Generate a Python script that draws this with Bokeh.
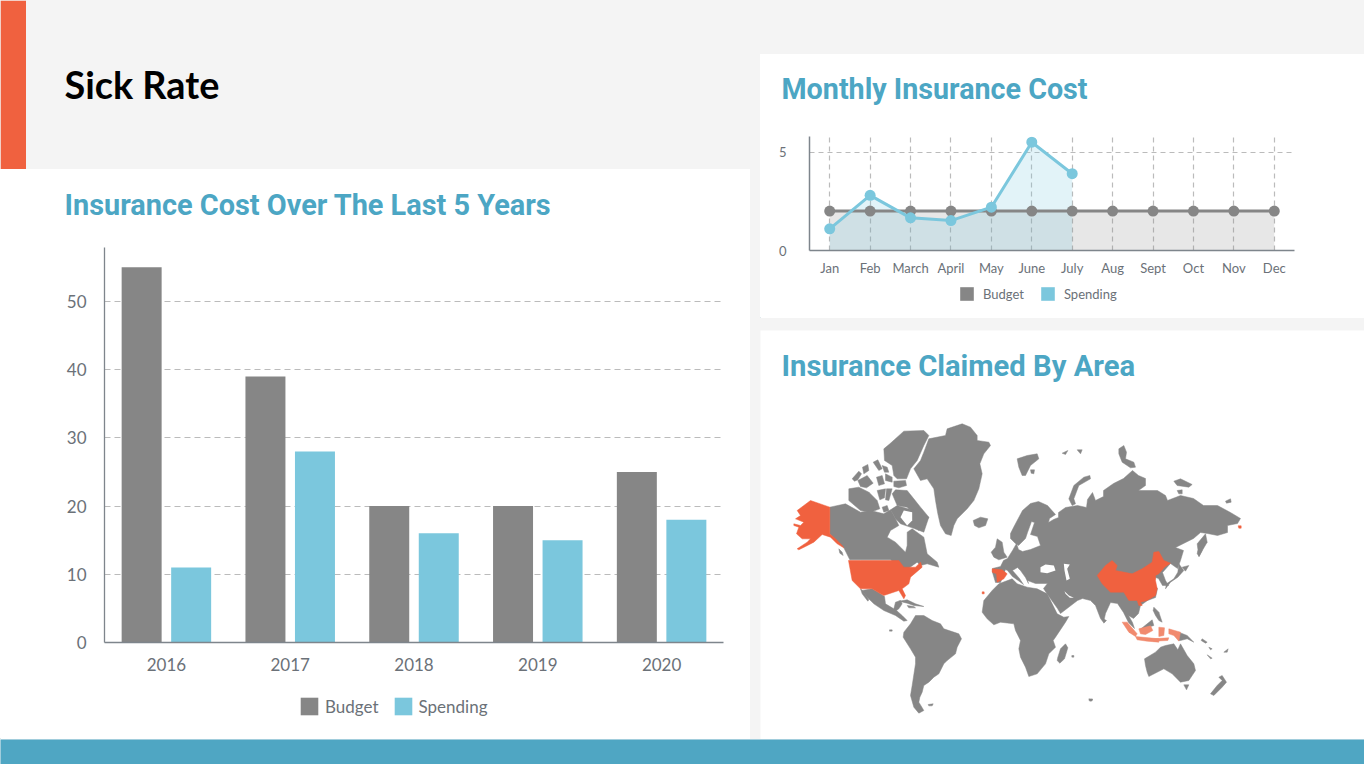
from bokeh.embed import file_html
from bokeh.resources import INLINE
from bokeh.plotting import figure
from bokeh.layouts import column, row
from bokeh.models import (BoxAnnotation, FactorRange, FixedTicker, Label, Legend, LegendItem,
                          Range1d, ColumnDataSource)
from bokeh.transform import dodge

# ---------------- data ----------------
YEARS = ["2016", "2017", "2018", "2019", "2020"]
YEAR_BUDGET = [55, 39, 20, 20, 25]
YEAR_SPENDING = [11, 28, 16, 15, 18]

MONTHS = ["Jan", "Feb", "March", "April", "May", "June", "July", "Aug", "Sept", "Oct", "Nov", "Dec"]
MONTH_BUDGET = [2, 2, 2, 2, 2, 2, 2, 2, 2, 2, 2, 2]
MONTH_SPENDING = [1.1, 2.8, 1.66, 1.52, 2.2, 5.5, 3.9]

# Map outlines: (origin of the reading, flat x,y list in 1/3 units)
NA = (780, 410)
EU = (1010, 410)
SA = (860, 560)
AS = (1090, 550)

GRAY_SHAPES = [
    # Greenland, Arctic Canada, Canada
    (NA, [445,85,495,75,500,55,545,40,570,50,590,75,590,90,625,95,630,105,610,130,598,160,605,190,595,235,580,270,560,295,530,325,520,345,512,375,495,370,480,345,472,310,465,270,460,235,440,205,420,210,400,175,420,150,430,125]),
    (NA, [328,100,370,62,430,60,445,75,430,105,410,150,390,175,378,205,350,205,340,195,335,165,312,150,310,115]),
    (NA, [215,205,235,182,243,190,232,208,222,212]),
    (NA, [246,170,262,162,265,180,250,190]),
    (NA, [278,155,292,148,305,175,295,180]),
    (NA, [305,165,320,170,325,185,312,185]),
    (NA, [232,210,260,195,278,218,258,232,240,228]),
    (NA, [288,200,305,195,312,220,295,225]),
    (NA, [315,190,335,200,335,215,315,210]),
    (NA, [340,212,375,210,378,225,355,232,340,228]),
    (NA, [205,235,235,230,265,245,290,270,298,295,270,305,240,300,205,270]),
    (NA, [290,240,315,235,312,262,298,268]),
    (NA, [318,235,335,235,325,270,315,268]),
    (NA, [335,250,345,238,380,240,400,265,420,290,445,320,430,345,415,360,395,340,400,310,380,290,350,285]),
    (NA, [305,290,320,285,325,300,310,305]),
    (NA, [578,330,600,320,622,325,615,345,595,352,582,345]),
    (NA, [148,290,195,280,240,305,270,300,310,310,330,298,345,325,355,345,330,360,320,380,345,395,375,425,380,405,380,365,395,355,430,380,440,430,470,455,475,470,440,460,420,465,410,455,375,480,360,470,330,448,208,448,190,412,148,370]),
    (NA, [330,298,350,285,400,300,445,320,430,365,395,352,360,340,345,325]),
    (NA, [175,415,185,425,188,435,178,428]),
    # UK and Ireland
    (NA, [632,425,645,410,650,385,665,395,670,425,680,440,655,448,640,440]),
    # Mexico, Baja, Caribbean, Pacific islands
    (SA, [5,90,35,85,60,100,72,108,75,130,100,145,105,125,120,120,125,130,115,145,108,150,125,165,140,180,130,182,105,165,70,150,40,130,20,110]),
    (SA, [0,85,8,92,25,118,22,122,5,100]),
    (SA, [115,122,140,118,165,130,190,138,160,135,140,128]),
    (SA, [140,135,160,138,165,142,145,142]),
    (SA, [87,208,95,208,95,212,87,212]),
    # South America, Falklands
    (SA, [130,215,150,190,165,165,190,165,215,180,240,190,250,205,295,220,303,235,290,260,285,280,260,300,250,310,235,340,220,350,205,365,190,375,185,395,178,410,175,425,190,450,175,458,160,440,150,405,155,375,165,310,165,290,150,265,128,230]),
    (SA, [203,432,218,430,215,436,205,436]),
    # Africa, Madagascar, small islands
    (SA, [365,155,370,120,395,90,415,70,455,55,470,70,500,80,530,85,560,100,590,160,610,170,625,168,615,185,585,230,578,240,585,260,565,280,555,310,530,340,505,348,495,320,480,290,475,265,480,240,465,210,460,190,420,185,400,193,380,175]),
    (SA, [592,290,600,265,615,250,622,262,612,295,598,308,590,300]),
    (SA, [634,285,640,285,640,290,634,290]),
    (SA, [685,415,696,416,692,422,686,421]),
    # Eurasian Arctic
    (EU, [20,145,50,135,80,130,85,145,60,165,45,195,35,195,25,170]),
    (EU, [60,178,72,178,70,190,62,188]),
    (EU, [155,128,172,120,165,132]),
    (EU, [200,118,215,118,210,130]),
    (EU, [175,265,190,225,220,200,238,195,240,205,205,225,190,265,195,280,185,285]),
    (EU, [325,115,340,105,348,125,345,145,370,155,375,170,360,172,335,155,325,130]),
    (EU, [490,212,510,205,545,222,535,230,500,225]),
    (EU, [500,240,515,238,515,250,505,250]),
    (EU, [645,272,660,265,662,275,648,278]),
    (EU, [560,400,585,370,590,395,565,438]),
    # Far East, South East Asia, Oceania
    (AS, [322,0,335,0,326,18,320,10]),
    (AS, [265,40,280,60,262,80,240,95,225,115,228,100,250,85,262,65]),
    (AS, [275,50,295,45,285,62]),
    (AS, [190,170,205,185,215,215,205,210,195,195,188,180]),
    (AS, [38,205,48,210,40,218]),
    (AS, [150,236,170,220,185,208,190,225,180,228]),
    (AS, [265,245,290,255,310,275,290,265,270,270,265,270]),
    (AS, [335,265,350,275,345,278,332,270]),
    (AS, [355,290,365,295,360,298]),
    (AS, [350,313,365,323,360,325]),
    (AS, [400,305,413,295,410,305]),
    (AS, [162,325,195,305,210,290,225,285,250,280,262,298,270,280,290,315,310,340,315,360,295,390,270,395,245,370,220,355,175,378,170,365,165,345]),
    (AS, [280,403,295,403,288,418]),
    (AS, [385,380,395,375,408,395,395,410,370,435,360,430,380,405,395,390]),
    (AS, [0,446,6,446,5,451,0,451]),
]

EURASIA_X = [992,992,1000,1003,1007,1012,1016,1018,1022,1030,1040,1037,1030,1034,1031,1027,1025,1018,1015,1010,1010,1013,1022,1030,1038,1047,1055,1049,1048,1053,1058,1058,1065,1077,1086,1087,1092,1095,1103,1103,1113,1123,1132,1138,1145,1145,1138,1157,1165,1167,1180,1193,1203,1217,1230,1240,1237,1227,1227,1217,1207,1200,1193,1175,1183,1180,1177,1170,1162,1165,1168,1162,1158,1155,1153,1157,1155,1147,1140,1138,1133,1128,1132,1134,1128,1123,1117,1110,1105,1103,1100,1095,1090,1082,1077,1060,1057,1047,1043,1047,1035,1027,1028,1025,1020,1017,1012,1019,1023,1019,1012,1007,1005,1000,995]
EURASIA_Y = [572,568,566,560,558,550,543,549,551,549,545,536,534,522,521,532,538,545,543,538,533,527,510,503,501,505,514,518,522,519,517,512,507,505,507,499,492,500,496,490,483,478,470,475,478,485,490,490,495,500,495,498,505,505,512,518,523,525,532,535,533,532,538,547,550,560,568,563,572,580,585,585,578,577,583,588,597,600,605,613,618,615,622,628,622,612,603,602,613,622,618,605,600,598,600,613,608,594,588,583,583,580,583,577,570,567,570,578,584,581,576,570,569,582,582]

WHITE_SHAPES = [
    (SA, [540,20,555,12,580,15,585,30,560,38,540,35]),       # Black Sea
    (SA, [610,10,628,12,620,25,628,55,618,60,612,30]),       # Caspian
    (SA, [612,92,625,105,640,112,628,112,615,100]),          # Persian Gulf
    (NA, [370,300,395,305,395,330,380,345,360,320]),         # Foxe Basin
]

RED_SHAPES = [
    (NA, [50,300,90,270,148,290,148,370,165,385,185,405,190,412,170,400,150,380,125,372,100,395,75,408,55,418,50,415,80,395,90,385,65,385,48,370,55,350,40,345,40,340,60,345,70,335,45,325,60,315]),
    (SA, [0,0,115,0,130,20,165,20,180,5,185,20,150,50,145,70,125,85,135,105,130,115,115,90,70,105,60,100,35,85,0,85,-25,60,-36,0]),
    (SA, [395,25,425,28,440,40,430,55,410,65,408,40,395,35]),
    (SA, [365,94,371,94,371,100,365,100]),
    (EU, [683,346,692,346,692,353,685,353]),
    (AS, [20,75,45,45,65,30,80,45,75,60,125,70,155,55,185,35,190,5,205,3,220,30,240,38,222,50,205,70,195,75,195,90,200,115,195,135,170,150,150,155,155,165,145,165,140,150,115,150,100,125,60,125,35,100]),
]

LIGHT_RED_SHAPES = [
    (AS, [95,215,110,215,140,250,135,258,115,245]),
    (AS, [135,258,175,262,205,265,205,275,170,272,140,268]),
    (AS, [145,235,180,226,187,240,165,252,150,250]),
    (AS, [205,230,222,232,220,255,205,258]),
    (AS, [235,235,270,245,265,272,250,255,235,250]),
    (AS, [180,265,235,262,232,270,190,272]),
]

# ---------------- styles ----------------
GRAY = "#868686"
BLUE = "#7BC7DD"
ORANGE = "#F0613F"
LIGHT_ORANGE = "#F18A6E"
TEAL = "#4FA6C3"
TITLE = "#4CA6C4"
BG = "#F4F4F4"
TXT = "#6B7178"
AXIS = "#7E858C"
GRID = "#BBBBBB"
HEAD_FONT = "Roboto"


def shape_lists(shapes):
    xs, ys = [], []
    for (ox, oy), flat in shapes:
        xs.append([ox + v / 3 for v in flat[0::2]])
        ys.append([oy + v / 3 for v in flat[1::2]])
    return xs, ys


def strip(width, height, fill="white"):
    fig = figure(width=width, height=height, x_range=(0, width), y_range=(0, height), output_backend="svg",
                 toolbar_location=None, tools="", x_axis_location=None, y_axis_location=None, frame_align=False,
                 background_fill_color=fill, border_fill_color=fill, min_border=0, min_border_left=0,
                 min_border_right=0, min_border_top=0, min_border_bottom=0)
    fig.outline_line_color = None
    fig.grid.visible = False
    return fig


def heading(fig, text, x, y, size="29px", font=HEAD_FONT, color=TITLE):
    fig.add_layout(Label(x=x, y=y, x_units="screen", y_units="screen", text=text,
                         text_font=font, text_font_style="bold", text_font_size=size,
                         text_color=color, text_baseline="middle", text_align="left"))


def legend_strip(width, height, x, y, size, glyph, standoff, spacing):
    fig = strip(width, height)
    # keys only: the bars lie outside the strip's range, the legend draws their colour
    k1 = fig.vbar(x=[-50], top=[1], width=1, fill_color=GRAY, line_color=None)
    k2 = fig.vbar(x=[-50], top=[1], width=1, fill_color=BLUE, line_color=None)
    fig.add_layout(Legend(items=[LegendItem(label="Budget", renderers=[k1]),
                                 LegendItem(label="Spending", renderers=[k2])],
                          location=(x, y), orientation="horizontal", margin=0, padding=0,
                          border_line_color=None, background_fill_alpha=0, glyph_width=glyph,
                          glyph_height=glyph, label_standoff=standoff, spacing=spacing,
                          label_text_font="Lato", label_text_font_size=size, label_text_color=TXT,
                          label_height=glyph), "center")
    return fig


# ---------------- header ----------------
head = strip(750, 169, BG)
head.add_layout(BoxAnnotation(left=0, right=25.5, fill_color=ORANGE, fill_alpha=1, line_color=None))
heading(head, "Sick Rate", 64, 85, size="37.8px", font="Lato", color="#000000")

# ---------------- bars ----------------
bars_title = strip(750, 78)
heading(bars_title, "Insurance Cost Over The Last 5 Years", 64, 43, size="28.9px")

bars = figure(width=750, height=438, x_range=FactorRange(factors=YEARS, range_padding=0),
              y_range=Range1d(0, 57.9), output_backend="svg", toolbar_location=None, tools="", frame_align=False,
              border_fill_color="white", background_fill_color="white")
bars.outline_line_color = None
bars.min_border_left, bars.min_border_right, bars.min_border_top, bars.min_border_bottom = 104, 27, 0, 43
src = ColumnDataSource(dict(year=YEARS, budget=YEAR_BUDGET, spending=YEAR_SPENDING))
bars.vbar(x=dodge("year", -0.2, range=bars.x_range), top="budget", width=0.323, source=src,
          fill_color=GRAY, line_color=None)
bars.vbar(x=dodge("year", 0.2, range=bars.x_range), top="spending", width=0.323, source=src,
          fill_color=BLUE, line_color=None)
bars.xgrid.visible = False
bars.ygrid.ticker = FixedTicker(ticks=[10, 20, 30, 40, 50])
bars.ygrid.grid_line_color = GRID
bars.ygrid.grid_line_dash = "6 4"
bars.ygrid.grid_line_width = 1.2
bars.yaxis.ticker = FixedTicker(ticks=[0, 10, 20, 30, 40, 50])
for ax, standoff in ((bars.xaxis, 9), (bars.yaxis, 12)):
    ax.major_tick_line_color = None
    ax.minor_tick_line_color = None
    ax.axis_line_color = AXIS
    ax.axis_line_width = 1.3
    ax.major_label_text_font = "Lato"
    ax.major_label_text_font_size = "17px"
    ax.major_label_text_color = TXT
    ax.major_label_standoff = standoff
bars_key = legend_strip(750, 54, 298, 22, "17px", 22, 5, 13)

# ---------------- monthly lines ----------------
lines_title = strip(604, 82)
heading(lines_title, "Monthly Insurance Cost", 21, 48, size="28.7px")

lines = figure(width=604, height=143, x_range=FactorRange(factors=MONTHS, range_padding=0),
               y_range=Range1d(0, 5.79), output_backend="svg", toolbar_location=None, tools="", frame_align=False,
               border_fill_color="white", background_fill_color="white")
lines.outline_line_color = None
lines.min_border_left, lines.min_border_right, lines.min_border_top, lines.min_border_bottom = 49, 70, 0, 29
months_sp = MONTHS[:len(MONTH_SPENDING)]
lines.varea(x=MONTHS, y1=[0] * len(MONTHS), y2=MONTH_BUDGET, fill_color=GRAY, fill_alpha=0.2)
lines.varea(x=months_sp, y1=[0] * len(months_sp), y2=MONTH_SPENDING, fill_color=BLUE, fill_alpha=0.22)
lines.line(x=MONTHS, y=MONTH_BUDGET, line_color=GRAY, line_width=3)
lines.scatter(x=MONTHS, y=MONTH_BUDGET, size=11, fill_color=GRAY, line_color=None)
lines.line(x=months_sp, y=MONTH_SPENDING, line_color=BLUE, line_width=3)
lines.scatter(x=months_sp, y=MONTH_SPENDING, size=11, fill_color=BLUE, line_color=None)
lines.ygrid.ticker = FixedTicker(ticks=[5])
lines.grid.grid_line_color = GRID
lines.grid.grid_line_dash = "5 4"
lines.grid.grid_line_width = 1.2
lines.yaxis.ticker = FixedTicker(ticks=[0, 5])
for ax, standoff in ((lines.xaxis, 3), (lines.yaxis, 17)):
    ax.major_tick_line_color = None
    ax.minor_tick_line_color = None
    ax.axis_line_color = AXIS
    ax.axis_line_width = 1.5
    ax.major_label_text_font = "Lato"
    ax.major_label_text_font_size = "13px"
    ax.major_label_text_color = TXT
    ax.major_label_standoff = standoff
lines_key = legend_strip(604, 39, 198, 16, "13px", 17, 8, 15)

# ---------------- map ----------------
world = strip(604, 409)
world.x_range = Range1d(760, 1364)
world.y_range = Range1d(739, 330)
gx, gy = shape_lists(GRAY_SHAPES)
world.patches(gx + [EURASIA_X], gy + [EURASIA_Y], fill_color=GRAY, line_color=GRAY, line_width=0.5)
wx, wy = shape_lists(WHITE_SHAPES)
world.patches(wx, wy, fill_color="white", line_color=None)
rx, ry = shape_lists(RED_SHAPES)
world.patches(rx, ry, fill_color=ORANGE, line_color=ORANGE, line_width=0.5)
lx, ly = shape_lists(LIGHT_RED_SHAPES)
world.patches(lx, ly, fill_color=LIGHT_ORANGE, line_color=LIGHT_ORANGE, line_width=0.5)
heading(world, "Insurance Claimed By Area", 21, 374, size="29.2px")

# ---------------- footer and page ----------------
foot = strip(1364, 25, TEAL)

world.margin = (12, 0, 0, 0)
bars_panel = column(bars_title, bars, bars_key, spacing=0, margin=0, styles={"background": "white"})
left = column(head, bars_panel, spacing=0, margin=0)
lines_panel = column(lines_title, lines, lines_key, spacing=0, margin=(54, 0, 0, 0), styles={"background": "white"})
right = column(lines_panel, world, spacing=0, margin=0)
top = row(left, right, spacing=10, margin=0)
p = column(top, foot, spacing=0, margin=0,
           styles={"position": "fixed", "left": "0", "top": "0", "background": BG,
                   "width": "1364px", "height": "764px"})

open("out.html", "w").write(file_html(p, INLINE))
